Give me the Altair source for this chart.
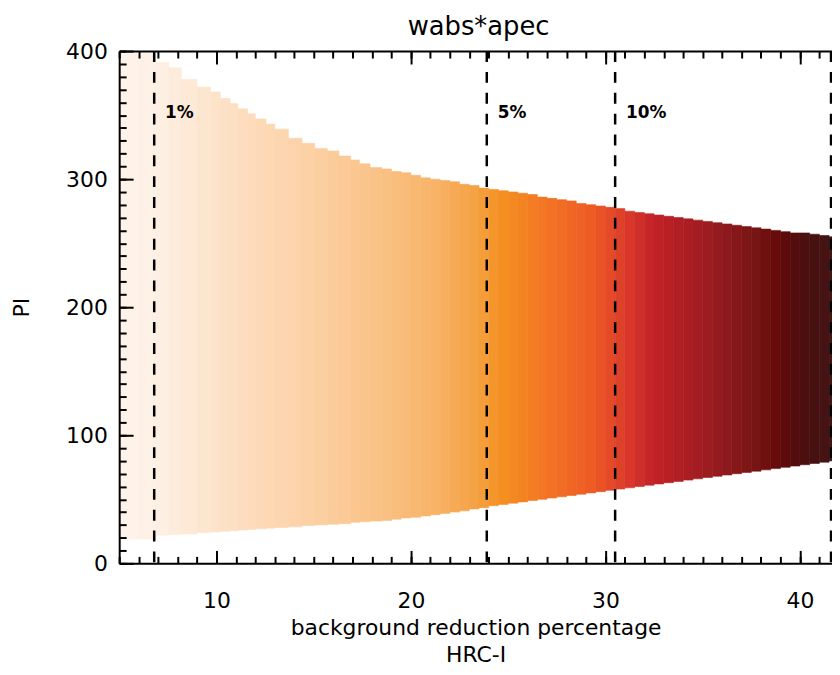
import altair as alt
import pandas as pd

# ---------------- data ----------------
bar_x_left = [5.0, 5.5, 6.0, 6.5, 6.9, 7.55, 8.2, 9.0, 9.7, 10.2, 10.7, 11.1, 11.6,
              12.0, 12.55, 13.0, 13.7, 14.4, 15.05, 15.7, 16.3, 16.9, 17.35, 17.9, 18.5,
              19.0, 19.5, 20.0, 20.5, 21.0, 21.5, 22.0, 22.5, 23.0, 23.5,
              24.0, 24.5, 25.0, 25.5, 26.0, 26.5, 27.0, 27.5, 28.0, 28.5,
              29.0, 29.5, 30.0, 30.5, 31.0, 31.5, 32.0, 32.5, 33.0, 33.5,
              34.0, 34.5, 35.0, 35.5, 36.0, 36.5, 37.0, 37.5, 38.0, 38.5,
              39.0, 39.5, 40.0, 40.5, 41.0, 41.5]
x_end = 41.65

pi_upper = [398, 398, 398, 398, 391, 387, 378, 372, 368, 363, 359, 355, 351,
            347, 343, 339, 332, 328, 324, 322, 318, 315, 312, 309, 308,
            306, 305, 303, 301, 300, 299, 298, 296, 295, 293,
            292, 291, 290, 289, 288, 286, 285, 284, 283, 281,
            280, 279, 278, 277, 275, 274, 273, 272, 271, 270,
            269, 268, 267, 266, 265, 264, 263, 262, 261, 260,
            259, 258, 258, 257, 256, 255]

pi_lower = [19, 19, 19, 19, 22, 22.5, 23, 24, 24.5, 25, 25.5, 26, 26.5,
            27, 27.5, 28, 28.5, 29.5, 30, 30.5, 31, 32, 32.5, 33, 33.5,
            34.5, 35.5, 36, 37, 38, 39, 40, 41, 42.5, 43.5,
            45, 46, 47, 48, 49, 50, 51, 52, 53, 54,
            55, 56, 57, 58, 59, 60, 61, 62, 63, 64,
            65, 66, 67, 68, 69, 70, 71, 72, 73, 74,
            75, 76, 77, 78, 79, 80]

# colour map sampled along x
color_stops = [5.0, 6.9, 11.6, 16.4, 21.1, 23.5, 24.7, 27.0, 29.4, 31.1, 32.5,
               35.4, 37.7, 38.9, 40.0, 41.6]
color_values = ["#fef4ec", "#fdf0e4", "#fddcbc", "#fbcb98", "#f8b46a", "#f5a040",
                "#f59020", "#f37424", "#ee5a24", "#da3a2a", "#c32228", "#9a1c20",
                "#781414", "#660a0a", "#4e0e0e", "#421414"]

line_x = [6.8, 23.9, 30.5, 41.6]
label_x = [6.8, 23.9, 30.5]
label_text = ["1%", "5%", "10%"]
label_y = [352, 352, 352]

title_text = ["wabs*apec"]

x_major = [10, 20, 30, 40]
x_minor = list(range(5, 42))
y_major = [0, 100, 200, 300, 400]
y_minor = list(range(0, 401, 10))

# ---------------- tables ----------------
bar_x_right = bar_x_left[1:] + [x_end]
df_bars = pd.DataFrame({
    "x0": bar_x_left,
    "x1": bar_x_right,
    "lo": pi_lower,
    "hi": pi_upper,
})
df_bars["xm"] = (df_bars["x0"] + df_bars["x1"]) / 2

df_lines = pd.DataFrame({"xv": line_x})
df_lab = pd.DataFrame({"lx": label_x, "ly": label_y, "t": label_text})
df_title = pd.DataFrame({"t": title_text})

W, H = 718, 516
xs = alt.Scale(domain=[5, x_end], nice=False, zero=False)
ys = alt.Scale(domain=[0, 400], nice=False, zero=False)
cscale = alt.Scale(domain=color_stops, range=color_values, interpolate="rgb")

FONT = "DejaVu Sans"

def tick_axis(orient, offset, values, size, domain=False):
    return alt.Axis(orient=orient, offset=offset, values=values, tickSize=size,
                    labels=False, domain=domain, title=None, grid=False,
                    tickWidth=2, tickColor="black", domainWidth=2,
                    domainColor="black", zindex=2)

bars = alt.Chart(df_bars).mark_rect(strokeWidth=0.6).encode(
    x=alt.X("x0:Q", scale=xs,
            axis=alt.Axis(orient="bottom", values=x_major, ticks=False,
                          domain=True, domainWidth=2, domainColor="black",
                          labelPadding=27, labelFontSize=22,
                          title=["background reduction percentage", "HRC-I"],
                          titleFontSize=22, titleLineHeight=27, titlePadding=7,
                          titleFontWeight="normal", grid=False, zindex=2)),
    x2="x1:Q",
    y=alt.Y("lo:Q", scale=ys,
            axis=alt.Axis(orient="left", values=y_major, ticks=False,
                          domain=True, domainWidth=2, domainColor="black",
                          labelPadding=12, labelFontSize=22,
                          title="PI", titleFontSize=22, titlePadding=32,
                          titleFontWeight="normal", grid=False, zindex=2)),
    y2="hi:Q",
    color=alt.Color("xm:Q", scale=cscale, legend=None),
    stroke=alt.Stroke("xm:Q", scale=cscale, legend=None),
)

rules = alt.Chart(df_lines).mark_rule(
    strokeDash=[11, 10], strokeWidth=2.5, color="black"
).encode(
    x=alt.X("xv:Q", scale=xs, axis=tick_axis("bottom", -H, x_major, 13, domain=True)),
)

labels = alt.Chart(df_lab).mark_text(
    align="left", dx=11, fontWeight="bold", fontSize=17, font=FONT, color="black"
).encode(
    x=alt.X("lx:Q", scale=xs, axis=tick_axis("top", -H, x_major, 13)),
    y=alt.Y("ly:Q", scale=ys, axis=tick_axis("right", -W, y_major, 14)),
    text="t:N",
)

minor1 = alt.Chart(df_lab).mark_point(opacity=0).encode(
    x=alt.X("lx:Q", scale=xs, axis=tick_axis("bottom", -H, x_minor, 7)),
    y=alt.Y("ly:Q", scale=ys, axis=tick_axis("right", -W, y_minor, 7)),
)

minor2 = alt.Chart(df_lab).mark_point(opacity=0).encode(
    x=alt.X("lx:Q", scale=xs, axis=tick_axis("top", -H, x_minor, 7)),
)

# chart title drawn as a text mark above the plot frame
title = alt.Chart(df_title).mark_text(
    fontSize=26, font=FONT, color="black", align="center", baseline="alphabetic"
).encode(
    x=alt.value(W / 2 + 3),
    y=alt.value(-16),
    text="t:N",
)

chart = alt.layer(bars, rules, labels, minor1, minor2, title).resolve_axis(
    x="independent", y="independent"
).properties(
    width=W,
    height=H,
    autosize=alt.AutoSizeParams(type="none"),
    padding={"left": 112, "top": 41, "right": 0, "bottom": 101},
).configure(
    font=FONT,
).configure_view(
    stroke=None
).configure_axis(
    labelFont=FONT, titleFont=FONT, labelColor="black", titleColor="black"
)

chart.save("out.html", embed_options={"renderer": "svg", "actions": False})
